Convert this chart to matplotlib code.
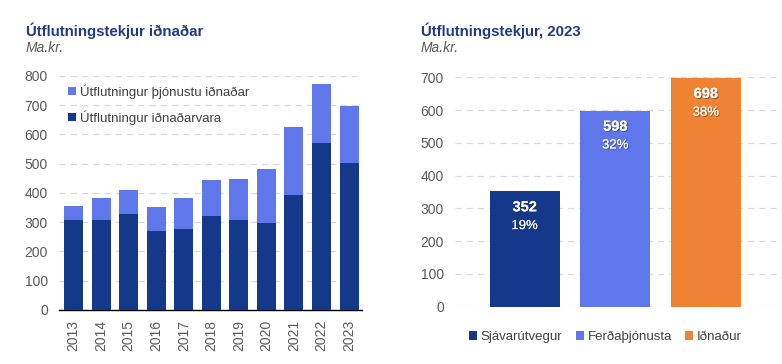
import matplotlib
matplotlib.use("Agg")
import matplotlib.pyplot as plt
import matplotlib.patheffects as pe
import numpy as np

plt.rcParams['font.family'] = ['Liberation Sans', 'DejaVu Sans']

# Left chart data
years = ['2013', '2014', '2015', '2016', '2017', '2018', '2019', '2020', '2021', '2022', '2023']
vorur = [308, 308, 328, 270, 277, 321, 308, 297, 393, 571, 503]
thjonusta = [48, 75, 82, 82, 106, 123, 140, 185, 233, 202, 195]

# Right chart data
greinar = ['Sjávarútvegur', 'Ferðaþjónusta', 'Iðnaður']
tekjur_2023 = [352, 598, 698]
hlutfall = ['19%', '32%', '38%']

dark = '#14398A'
light = '#5F77EB'
orange = '#F08233'
title_col = '#1F3A8A'
tick_col = '#595959'
grid_col = '#D9D9D9'

fig = plt.figure(figsize=(7.82, 3.64), dpi=100)

# ---- left chart
ax1 = fig.add_axes([0.0754, 0.1484, 0.3875, 0.6429])
x = np.arange(len(years))
ax1.bar(x, vorur, width=0.69, color=dark, label='Útflutningur iðnaðarvara', zorder=3)
ax1.bar(x, thjonusta, width=0.69, bottom=vorur, color=light,
        label='Útflutningur þjónustu iðnaðar', zorder=3)
ax1.set_xlim(-0.53, 10.47)
ax1.set_ylim(0, 800)
ax1.set_yticks(range(0, 801, 100))
ax1.set_xticks(x)
ax1.set_xticklabels(years, rotation=90)
ax1.yaxis.grid(True, color=grid_col, linestyle=(0, (5, 4)), linewidth=0.9, zorder=0)
for s in ['top', 'right', 'left']:
    ax1.spines[s].set_visible(False)
ax1.spines['bottom'].set_color('black')
ax1.spines['bottom'].set_linewidth(1.0)
ax1.tick_params(axis='y', length=0, pad=8, labelsize=10, labelcolor=tick_col)
ax1.tick_params(axis='x', length=0, pad=7, labelsize=10, labelcolor=tick_col)
h, l = ax1.get_legend_handles_labels()
ax1.legend(h[::-1], l[::-1], loc='upper left', bbox_to_anchor=(-0.01, 1.015),
           frameon=False, fontsize=9.5, handlelength=0.6, handleheight=0.6,
           handletextpad=0.3, labelspacing=0.85, labelcolor='#404040')

fig.text(26 / 782, 1 - 31 / 364, 'Útflutningstekjur iðnaðar', fontsize=10.8,
         fontweight='bold', color=title_col, va='center')
fig.text(26 / 782, 1 - 48 / 364, 'Ma.kr.', fontsize=10, fontstyle='italic',
         color=tick_col, va='center')

# ---- right chart
ax2 = fig.add_axes([0.5818, 0.1574, 0.4182, 0.6302])
cols = [dark, light, orange]
xr = np.arange(len(greinar))
bars = ax2.bar(xr, tekjur_2023, width=0.77, color=cols, zorder=3)
ax2.set_xlim(-0.77, 2.84)
ax2.set_ylim(0, 700)
ax2.set_yticks(range(0, 701, 100))
ax2.set_xticks([])
ax2.yaxis.grid(True, color=grid_col, linestyle=(0, (5, 4)), linewidth=0.9, zorder=0)
for s in ['top', 'right', 'left', 'bottom']:
    ax2.spines[s].set_visible(False)
ax2.tick_params(axis='y', length=0, pad=8, labelsize=10, labelcolor=tick_col)

shadow = [pe.withSimplePatchShadow(offset=(0.8, -0.8), shadow_rgbFace='#333333', alpha=0.5),
          pe.Normal()]
for i, (v, p) in enumerate(zip(tekjur_2023, hlutfall)):
    ax2.annotate(str(v), (i, v), xytext=(0, -11.5), textcoords='offset points',
                 ha='center', va='center', color='white', fontsize=10.5,
                 fontweight='bold', path_effects=shadow, zorder=5)
    ax2.annotate(p, (i, v), xytext=(0, -25), textcoords='offset points',
                 ha='center', va='center', color='white', fontsize=9.5,
                 path_effects=shadow, zorder=5)

ax2.legend(bars, greinar, loc='center', bbox_to_anchor=(0.46, -0.132), ncol=3,
           frameon=False, fontsize=9.5, handlelength=0.6, handleheight=0.6,
           handletextpad=0.3, columnspacing=1.0, labelcolor='#404040')

fig.text(421 / 782, 1 - 31 / 364, 'Útflutningstekjur, 2023', fontsize=10.8,
         fontweight='bold', color=title_col, va='center')
fig.text(421 / 782, 1 - 48 / 364, 'Ma.kr.', fontsize=10, fontstyle='italic',
         color=tick_col, va='center')

fig.savefig('out.png', dpi=100, facecolor='white')
